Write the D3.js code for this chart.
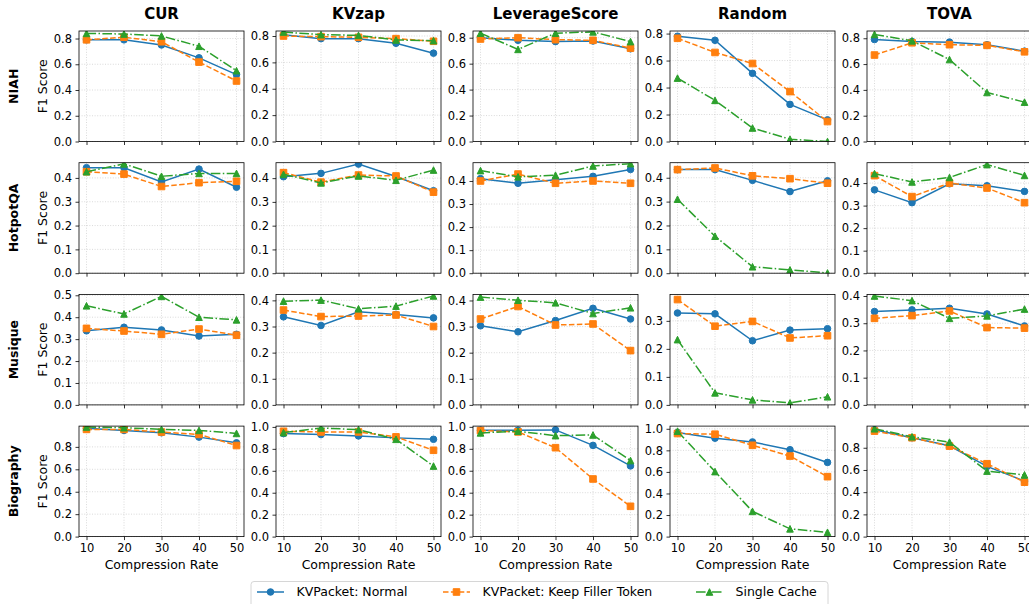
<!DOCTYPE html>
<html>
<head>
<meta charset="utf-8">
<style>
  body { margin: 0; background: #fff; }
  svg { display: block; font-family: "DejaVu Sans", sans-serif; }
</style>
</head>
<body>
<svg width="1029" height="604"></svg>
<script src="https://d3js.org/d3.v7.min.js"></script>
<script>

const rates = [10, 20, 30, 40, 50];
const methods = ["CUR", "KVzap", "LeverageScore", "Random", "TOVA"];
const datasets = ["NIAH", "HotpotQA", "Musique", "Biography"];
const seriesNames = ["KVPacket: Normal", "KVPacket: Keep Filler Token", "Single Cache"];

// rows = datasets, inner rows = methods, values at each compression rate
const normal = [
  [[0.79, 0.79, 0.75, 0.65, 0.52], [0.81, 0.78, 0.78, 0.745, 0.67], [0.80, 0.78, 0.77, 0.775, 0.715], [0.78, 0.75, 0.505, 0.275, 0.16], [0.79, 0.775, 0.77, 0.75, 0.70]],
  [[0.443, 0.443, 0.383, 0.437, 0.361], [0.406, 0.42, 0.459, 0.407, 0.347], [0.41, 0.39, 0.405, 0.42, 0.45], [0.434, 0.434, 0.389, 0.342, 0.387], [0.37, 0.313, 0.397, 0.388, 0.363]],
  [[0.338, 0.354, 0.342, 0.314, 0.322], [0.337, 0.304, 0.356, 0.346, 0.333], [0.303, 0.28, 0.323, 0.37, 0.329], [0.328, 0.325, 0.229, 0.267, 0.272], [0.343, 0.349, 0.355, 0.334, 0.29]],
  [[0.965, 0.947, 0.926, 0.887, 0.836], [0.939, 0.93, 0.918, 0.90, 0.887], [0.969, 0.969, 0.972, 0.831, 0.644], [0.966, 0.913, 0.878, 0.806, 0.688], [0.962, 0.89, 0.818, 0.632, 0.50]]
];
const filler = [
  [[0.79, 0.81, 0.775, 0.617, 0.47], [0.80, 0.795, 0.79, 0.78, 0.76], [0.79, 0.80, 0.785, 0.78, 0.72], [0.765, 0.66, 0.578, 0.37, 0.148], [0.67, 0.765, 0.75, 0.745, 0.695]],
  [[0.426, 0.416, 0.364, 0.38, 0.386], [0.423, 0.383, 0.413, 0.409, 0.341], [0.40, 0.43, 0.39, 0.40, 0.39], [0.434, 0.441, 0.408, 0.396, 0.377], [0.433, 0.34, 0.40, 0.378, 0.313]],
  [[0.349, 0.337, 0.322, 0.346, 0.318], [0.363, 0.338, 0.34, 0.344, 0.30], [0.329, 0.377, 0.306, 0.31, 0.208], [0.376, 0.281, 0.298, 0.239, 0.247], [0.318, 0.328, 0.345, 0.284, 0.282]],
  [[0.956, 0.956, 0.932, 0.911, 0.812], [0.96, 0.954, 0.954, 0.909, 0.787], [0.966, 0.954, 0.81, 0.525, 0.276], [0.956, 0.95, 0.847, 0.747, 0.556], [0.95, 0.89, 0.815, 0.656, 0.49]]
];
const single = [
  [[0.84, 0.835, 0.82, 0.74, 0.55], [0.83, 0.81, 0.805, 0.77, 0.765], [0.835, 0.71, 0.835, 0.845, 0.77], [0.47, 0.305, 0.10, 0.017, 0.0], [0.83, 0.78, 0.635, 0.38, 0.305]],
  [[0.426, 0.459, 0.407, 0.419, 0.419], [0.416, 0.38, 0.409, 0.391, 0.434], [0.445, 0.418, 0.425, 0.465, 0.475], [0.31, 0.155, 0.027, 0.014, 0.001], [0.442, 0.405, 0.425, 0.482, 0.434]],
  [[0.452, 0.415, 0.495, 0.40, 0.388], [0.397, 0.401, 0.368, 0.378, 0.417], [0.413, 0.401, 0.391, 0.35, 0.372], [0.233, 0.043, 0.018, 0.007, 0.029], [0.40, 0.383, 0.318, 0.327, 0.352]],
  [[0.977, 0.971, 0.956, 0.947, 0.92], [0.948, 0.99, 0.975, 0.887, 0.643], [0.945, 0.96, 0.92, 0.926, 0.693], [0.978, 0.603, 0.234, 0.072, 0.04], [0.971, 0.899, 0.851, 0.59, 0.556]]
];
const allSeries = [normal, filler, single];

// y tick step per dataset row
const rowStep = [0.2, 0.1, 0.1, 0.2];

const colors = ["#1f77b4", "#ff7f0e", "#2ca02c"];
const dashes = [null, "5.5,2.4", "9.6,2.4,1.5,2.4"];

const triangle = {
  draw(ctx, size) {
    const h = Math.sqrt(size) / 2;
    ctx.moveTo(0, -h); ctx.lineTo(h, h); ctx.lineTo(-h, h); ctx.closePath();
  }
};
const symbols = [
  d3.symbol().type(d3.symbolCircle).size(Math.PI * 3.3 * 3.3),
  d3.symbol().type(d3.symbolSquare).size(6.6 * 6.6),
  d3.symbol().type(triangle).size(6.6 * 6.6)
];

let svg = d3.select("svg");
svg.append("rect").attr("width", 1029).attr("height", 604).attr("fill", "#fff");

let colLeft = i => 79 + i * 197;
let rowTop = j => 31 + j * 131.7;
let pw = 165, ph = 110.5;

let x = d3.scaleLinear().domain([8, 52]).range([0, pw]);
let fmt = d3.format(".1f");
let defs = svg.append("defs");

datasets.forEach((ds, r) => {
  methods.forEach((m, c) => {
    let vals = allSeries.flatMap(s => s[r][c]);
    let mx = d3.max(vals), mn = d3.min(vals);
    let top = mx + 0.05 * (mx - mn);
    let y = d3.scaleLinear().domain([0, top]).range([ph, 0]);
    let step = rowStep[r];
    let ticks = d3.range(0, Math.floor(top / step + 1e-9) + 1).map(i => i * step);

    let g = svg.append("g").attr("transform", `translate(${colLeft(c)},${rowTop(r)})`);
    let cid = `clip-${r}-${c}`;
    defs.append("clipPath").attr("id", cid)
      .append("rect").attr("width", pw).attr("height", ph);

    // grid
    g.append("g").selectAll("line").data(ticks).join("line")
      .attr("x1", 0).attr("x2", pw)
      .attr("y1", d => y(d)).attr("y2", d => y(d))
      .attr("stroke", "#b0b0b0").attr("stroke-opacity", 0.6)
      .attr("stroke-width", 0.8).attr("stroke-dasharray", "1,1.6");
    g.append("g").selectAll("line").data(rates).join("line")
      .attr("y1", 0).attr("y2", ph)
      .attr("x1", d => x(d)).attr("x2", d => x(d))
      .attr("stroke", "#b0b0b0").attr("stroke-opacity", 0.6)
      .attr("stroke-width", 0.8).attr("stroke-dasharray", "1,1.6");

    let plot = g.append("g").attr("clip-path", `url(#${cid})`);
    allSeries.forEach((s, k) => {
      let pts = s[r][c].map((v, i) => [x(rates[i]), y(v)]);
      plot.append("path")
        .attr("d", d3.line()(pts))
        .attr("fill", "none")
        .attr("stroke", colors[k])
        .attr("stroke-width", 1.5)
        .attr("stroke-dasharray", dashes[k]);
      plot.append("g").selectAll("path").data(pts).join("path")
        .attr("transform", d => `translate(${d[0]},${d[1]})`)
        .attr("d", symbols[k]())
        .attr("fill", colors[k])
        .attr("stroke", colors[k])
        .attr("stroke-width", 1);
    });

    // axes
    let ya = g.append("g")
      .call(d3.axisLeft(y).tickValues(ticks).tickSize(3.5).tickPadding(3.5).tickFormat(fmt));
    let xa = g.append("g").attr("transform", `translate(0,${ph})`)
      .call(d3.axisBottom(x).tickValues(rates).tickSize(3.5).tickPadding(3.5)
        .tickFormat(r === datasets.length - 1 ? d3.format("d") : ""));
    [ya, xa].forEach(a => {
      a.select(".domain").remove();
      a.selectAll("text").attr("font-size", 11.5).attr("fill", "#000")
        .attr("font-family", "DejaVu Sans");
      a.selectAll("line").attr("stroke", "#000").attr("stroke-width", 0.8);
    });

    g.append("rect").attr("width", pw).attr("height", ph)
      .attr("fill", "none").attr("stroke", "#000").attr("stroke-width", 0.8);

    if (r === 0) {
      svg.append("text")
        .attr("x", colLeft(c) + pw / 2).attr("y", 18.5)
        .attr("text-anchor", "middle")
        .attr("font-size", 15).attr("font-weight", "bold")
        .text(m);
    }
    if (r === datasets.length - 1) {
      svg.append("text")
        .attr("x", colLeft(c) + pw / 2).attr("y", 568.5)
        .attr("text-anchor", "middle")
        .attr("font-size", 12.5)
        .text("Compression Rate");
    }
    if (c === 0) {
      let cy = rowTop(r) + ph / 2;
      svg.append("text")
        .attr("transform", `translate(17.5,${cy}) rotate(-90)`)
        .attr("text-anchor", "middle")
        .attr("font-size", 12.5).attr("font-weight", "bold")
        .text(ds);
      svg.append("text")
        .attr("transform", `translate(46.5,${cy}) rotate(-90)`)
        .attr("text-anchor", "middle")
        .attr("font-size", 12.5)
        .text("F1 Score");
    }
  });
});

// legend
let lg = svg.append("g");
lg.append("rect")
  .attr("x", 251).attr("y", 581.5).attr("width", 577).attr("height", 34)
  .attr("rx", 3)
  .attr("fill", "#fff").attr("fill-opacity", 0.8)
  .attr("stroke", "#cccccc").attr("stroke-width", 0.8);
let legX = [257, 443, 696];
seriesNames.forEach((name, k) => {
  let x0 = legX[k], ly = 592;
  lg.append("line")
    .attr("x1", x0).attr("x2", x0 + 27).attr("y1", ly).attr("y2", ly)
    .attr("stroke", colors[k]).attr("stroke-width", 1.5)
    .attr("stroke-dasharray", dashes[k]);
  lg.append("path")
    .attr("transform", `translate(${x0 + 13.5},${ly})`)
    .attr("d", symbols[k]())
    .attr("fill", colors[k]).attr("stroke", colors[k]).attr("stroke-width", 1);
  lg.append("text")
    .attr("x", x0 + 39.5).attr("y", ly).attr("dy", "0.35em")
    .attr("font-size", 12.5)
    .text(name);
});
</script>
</body>
</html>
